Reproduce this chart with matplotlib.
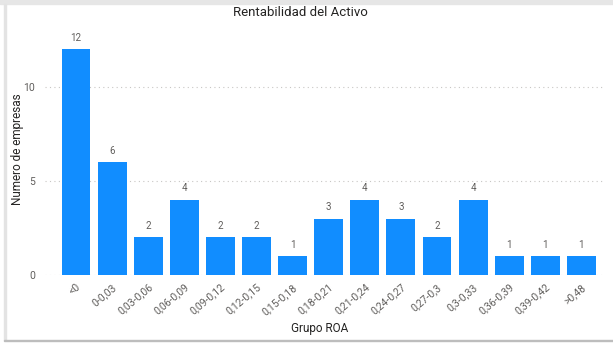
import matplotlib
matplotlib.use("Agg")
import matplotlib.pyplot as plt
from matplotlib.patches import Rectangle
import numpy as np

grupos = ["<0", "0-0,03", "0,03-0,06", "0,06-0,09", "0,09-0,12", "0,12-0,15",
          "0,15-0,18", "0,18-0,21", "0,21-0,24", "0,24-0,27", "0,27-0,3",
          "0,3-0,33", "0,36-0,39", "0,39-0,42", ">0,48"]
empresas = [12, 6, 2, 4, 2, 2, 1, 3, 4, 3, 2, 4, 1, 1, 1]
yticks = [0, 5, 10]

azul = "#118DFF"
gris = "#605E5C"
oscuro = "#252423"

plt.rcParams["font.family"] = ["Roboto", "DejaVu Sans"]

fig = plt.figure(figsize=(6.13, 3.44), dpi=100)
ax = fig.add_axes([0.0734, 0.2006, 0.9103, 0.7104])

x = np.arange(len(grupos))
bars = ax.bar(x, empresas, width=0.8, color=azul, zorder=3)
for b, v in zip(bars, empresas):
    ax.text(b.get_x() + b.get_width() / 2, v + 0.35, str(v), ha="center",
            va="bottom", fontsize=7, color=gris)

ax.set_xlim(-0.86, 14.6)
ax.set_ylim(0, 13)
ax.set_yticks(yticks)
ax.set_yticklabels([str(t) for t in yticks], fontsize=7.5, color=gris)
ax.set_xticks(x)
ax.set_xticklabels(grupos, rotation=40, ha="right", rotation_mode="anchor",
                   fontsize=7.5, color=gris)
ax.tick_params(axis="both", length=0)
ax.tick_params(axis="y", pad=7)
ax.tick_params(axis="x", pad=5)
ax.grid(axis="y", linestyle=(0, (1, 3)), color="#C8C6C4", linewidth=0.8, zorder=0)
for s in ax.spines.values():
    s.set_visible(False)

fig.text(0.49, 0.965, "Rentabilidad del Activo", fontsize=9.5, color=oscuro,
         ha="center", va="center")
fig.text(0.028, 0.565, "Numero de empresas", fontsize=8.5, color=oscuro,
         ha="center", va="center", rotation=90)
fig.text(0.522, 0.045, "Grupo ROA", fontsize=8.5, color=oscuro, ha="center",
         va="center")

# marco del visual
fig.patches.append(Rectangle((0, 0.988), 1, 0.012, transform=fig.transFigure,
                             color="#E6E6E6", zorder=0))
fig.patches.append(Rectangle((0.007, 0.012), 0.002, 0.976, transform=fig.transFigure,
                             color="#E3E3E3", zorder=0))
fig.patches.append(Rectangle((0.007, 0.008), 0.993, 0.005, transform=fig.transFigure,
                             color="#BDBDBD", zorder=0))

fig.savefig("out.png", dpi=100)
